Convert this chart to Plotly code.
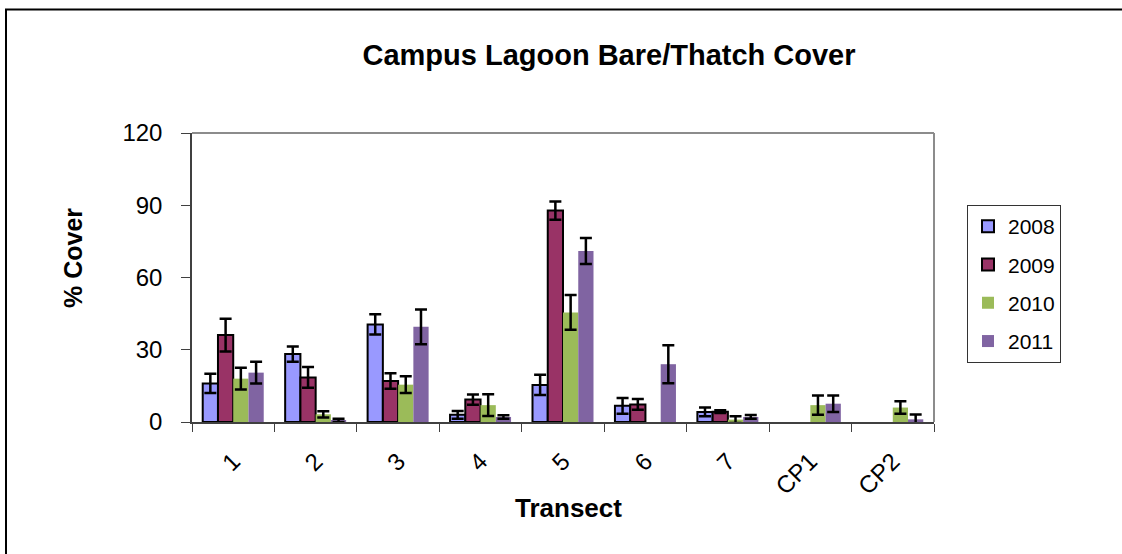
import plotly.graph_objects as go

categories = ["1", "2", "3", "4", "5", "6", "7", "CP1", "CP2"]
years = ["2008", "2009", "2010", "2011"]

v2008 = [16.0, 28.2, 40.5, 3.0, 15.4, 6.7, 4.2, None, None]
e2008 = [4.0, 3.2, 4.2, 1.6, 4.2, 3.3, 1.8, 0, 0]
v2009 = [36.1, 18.5, 17.0, 9.3, 87.8, 7.3, 4.3, None, None]
e2009 = [6.8, 4.3, 3.2, 2.1, 3.8, 2.2, 0.6, 0, 0]
v2010 = [18.0, 3.2, 15.5, 7.0, 45.5, None, 1.0, 7.0, 6.0]
e2010 = [4.5, 1.3, 3.5, 4.5, 7.2, 0, 1.4, 4.0, 2.6]
v2011 = [20.5, 0.7, 39.5, 2.1, 71.0, 24.0, 2.1, 7.6, 1.1]
e2011 = [4.5, 0.7, 7.2, 0.7, 5.4, 7.9, 0.8, 3.4, 2.0]

values = [v2008, v2009, v2010, v2011]
errors = [e2008, e2009, e2010, e2011]
colors = ["#9999FF", "#993366", "#9BBB59", "#8064A2"]
line_widths = [2, 2, 0, 0]

FONT = "Liberation Sans, Arial, sans-serif"

fig = go.Figure()
for i, yr in enumerate(years):
    fig.add_trace(go.Bar(
        x=categories, y=values[i], name=yr,
        legendgroup=yr,
        marker=dict(color=colors[i], line=dict(color="black", width=line_widths[i])),
        error_y=dict(type="data", array=errors[i], visible=True,
                     color="black", thickness=2.5, width=6),
    ))

# plot area geometry (pixels)
L, R, T, B = 192, 188, 133, 132
W, H = 1122 - L - R, 554 - T - B

def px_x(px):
    return (px - L) / W

def px_y(py):
    return (554 - B - py) / H

fig.update_layout(
    width=1122, height=554,
    margin=dict(l=L, r=R, t=T, b=B, pad=0),
    paper_bgcolor="white", plot_bgcolor="white",
    barmode="group", bargap=0.26, bargroupgap=0,
    font=dict(family=FONT, color="black"),
    title=dict(text="<b>Campus Lagoon Bare/Thatch Cover</b>",
               font=dict(size=29, family=FONT, color="black"),
               xref="container", x=609 / 1122, xanchor="center",
               yref="container", y=1 - 55 / 554, yanchor="middle"),
    showlegend=True,
    legend=dict(x=px_x(967), y=px_y(205), xanchor="left", yanchor="top",
                font=dict(size=21, family=FONT, color="black"),
                bordercolor="#333333", borderwidth=1, bgcolor="white",
                traceorder="grouped", tracegroupgap=8, itemwidth=30),
    xaxis=dict(showgrid=False, showline=True, linecolor="#404040", linewidth=1.5,
               ticks="outside", tickson="boundaries", ticklen=8, tickcolor="#404040",
               tickangle=-45, tickfont=dict(size=24, family=FONT, color="black"),
               ticklabelstandoff=14),
    yaxis=dict(range=[0, 120], tickvals=[0, 30, 60, 90, 120], showgrid=False,
               zeroline=False, showline=True, linecolor="#404040", linewidth=1.5,
               ticks="outside", ticklen=9, tickcolor="#404040",
               tickfont=dict(size=24, family=FONT, color="black"),
               ticklabelstandoff=14),
)

# top and right border of plot area (light gray)
fig.add_shape(type="line", xref="paper", yref="paper", x0=0, x1=1, y0=1, y1=1,
              line=dict(color="#8C8C8C", width=2))
fig.add_shape(type="line", xref="paper", yref="paper", x0=1, x1=1, y0=0, y1=1,
              line=dict(color="#8C8C8C", width=2))

# outer frame lines (top and left)
fig.add_shape(type="line", xref="paper", yref="paper",
              x0=px_x(5), x1=px_x(1122), y0=px_y(9.5), y1=px_y(9.5),
              line=dict(color="black", width=2))
fig.add_shape(type="line", xref="paper", yref="paper",
              x0=px_x(6), x1=px_x(6), y0=px_y(9.5), y1=px_y(554),
              line=dict(color="black", width=2))

# axis titles
fig.add_annotation(text="<b>Transect</b>", xref="paper", yref="paper",
                   x=px_x(568), y=px_y(508), xanchor="center", yanchor="middle",
                   showarrow=False, font=dict(size=26, family=FONT, color="black"))
fig.add_annotation(text="<b>% Cover</b>", xref="paper", yref="paper",
                   x=px_x(73), y=px_y(258), xanchor="center", yanchor="middle",
                   textangle=-90, showarrow=False,
                   font=dict(size=25, family=FONT, color="black"))

fig.write_html("out.html", config={"displayModeBar": False},
               post_script="document.body.style.margin='0';document.body.style.overflow='hidden';")
